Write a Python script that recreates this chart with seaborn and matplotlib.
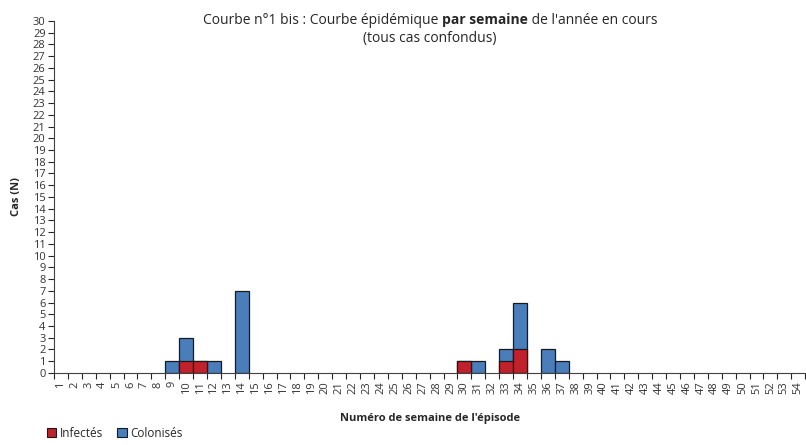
import pandas as pd
import matplotlib
matplotlib.use('Agg')
import matplotlib.pyplot as plt
import seaborn as sns
from matplotlib.patches import Patch

# Weekly counts (weeks 1..54)
weeks = [str(w) for w in range(1, 55)]
infected = {10: 1, 11: 1, 30: 1, 33: 1, 34: 2}
colonised = {9: 1, 10: 2, 12: 1, 14: 7, 31: 1, 33: 1, 34: 4, 36: 2, 37: 1}

inf_vals = [infected.get(w, 0) for w in range(1, 55)]
col_vals = [colonised.get(w, 0) for w in range(1, 55)]

df = pd.DataFrame({'semaine': weeks, 'Infectés': inf_vals, 'Colonisés': col_vals})
df['total'] = df['Infectés'] + df['Colonisés']

red = '#C0212B'
blue = '#4A7EBB'

sns.set_style('white')
plt.rcParams['font.family'] = ['Open Sans', 'DejaVu Sans']

fig = plt.figure(figsize=(8.06, 4.45), dpi=100)
ax = fig.add_axes([0.067, 0.162, 0.932, 0.791])

# stacked: draw total in blue, then infected in red on top of it
sns.barplot(data=df, x='semaine', y='total', order=weeks, color=blue, width=1,
            edgecolor='#1a1a1a', linewidth=0.9, saturation=1, ax=ax)
sns.barplot(data=df, x='semaine', y='Infectés', order=weeks, color=red, width=1,
            edgecolor='#1a1a1a', linewidth=0.9, saturation=1, ax=ax)

# hide zero-height bars' edges
for p in ax.patches:
    if p.get_height() == 0:
        p.set_linewidth(0)

ax.set_xlim(-0.5, 53.5)
ax.set_ylim(0, 30)
ax.set_yticks(range(0, 31))
ax.tick_params(axis='y', labelsize=8, length=4, width=0.8, direction='out', left=True, pad=2,
               labelcolor='#333333')

ax.set_xticks([i - 0.5 for i in range(55)])
ax.set_xticklabels([])
ax.set_xticks(range(54), minor=True)
ax.set_xticklabels(weeks, minor=True, rotation=90, fontsize=8, color='#333333')
ax.tick_params(axis='x', which='major', length=4, width=0.8, direction='out', bottom=True)
ax.tick_params(axis='x', which='minor', length=0, pad=6)

for s in ['top', 'right']:
    ax.spines[s].set_visible(False)
for s in ['left', 'bottom']:
    ax.spines[s].set_color('#404040')
    ax.spines[s].set_linewidth(0.8)

ax.set_xlabel("Numéro de semaine de l'épisode", fontsize=8, fontweight='bold', labelpad=14)
ax.set_ylabel('Cas (N)', fontsize=8, fontweight='bold', labelpad=8)

# title with a bold part
parts = [("Courbe n°1 bis : Courbe épidémique ", 'normal'),
         ("par semaine", 'bold'),
         (" de l'année en cours", 'normal')]
texts = [fig.text(0, 0.955, t, fontsize=10, fontweight=w, va='center', ha='left') for t, w in parts]
fig.canvas.draw()
r = fig.canvas.get_renderer()
widths = [t.get_window_extent(r).width for t in texts]
x = 430 - sum(widths) / 2
for t, wd in zip(texts, widths):
    t.set_x(x / 806)
    x += wd
fig.text(430 / 806, 0.913, '(tous cas confondus)', fontsize=10, ha='center', va='center')

handles = [Patch(facecolor=red, edgecolor='#1a1a1a', linewidth=0.8, label='Infectés'),
           Patch(facecolor=blue, edgecolor='#1a1a1a', linewidth=0.8, label='Colonisés')]
fig.legend(handles=handles, loc='lower left', bbox_to_anchor=(0.045, -0.012), ncol=2,
           frameon=False, fontsize=8.5, handlelength=0.8, handleheight=0.8,
           handletextpad=0.3, columnspacing=1.2)

fig.savefig('out.png', dpi=100)
